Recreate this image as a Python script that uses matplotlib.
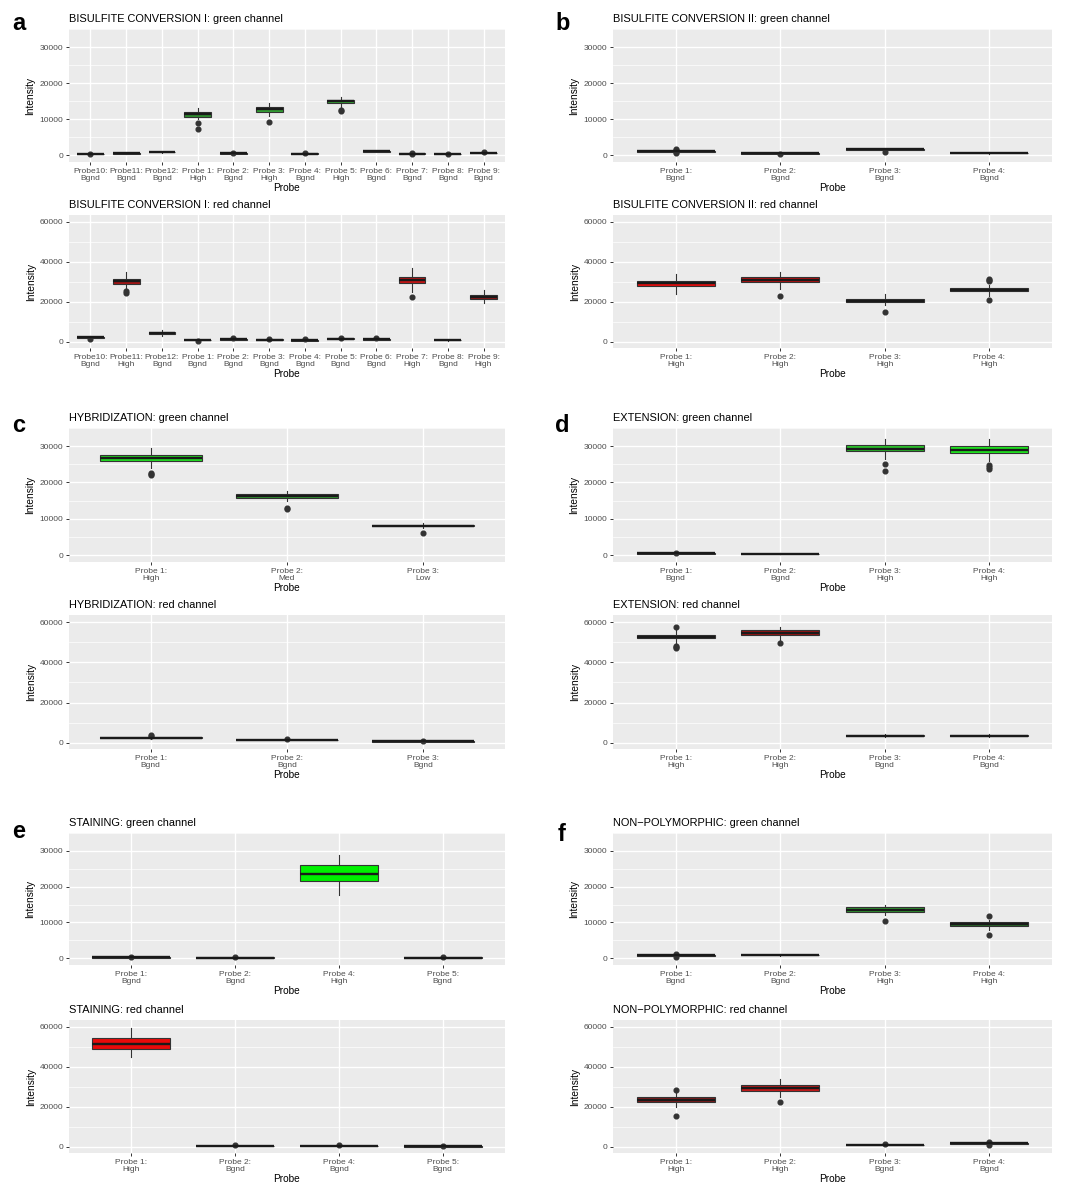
import numpy as np
import matplotlib
matplotlib.use("Agg")
import matplotlib.pyplot as plt
from matplotlib.ticker import MultipleLocator

plt.rcParams["font.family"] = ["Liberation Sans", "DejaVu Sans"]

# box stats per probe: (whisker low, Q1, median, Q3, whisker high)

# a: bisulfite conversion I
A_GREEN_LABELS = ["Probe10:\nBgnd", "Probe11:\nBgnd", "Probe12:\nBgnd", "Probe 1:\nHigh",
                  "Probe 2:\nBgnd", "Probe 3:\nHigh", "Probe 4:\nBgnd", "Probe 5:\nHigh",
                  "Probe 6:\nBgnd", "Probe 7:\nBgnd", "Probe 8:\nBgnd", "Probe 9:\nBgnd"]
A_GREEN_STATS = [(150, 250, 320, 400, 500), (380, 450, 520, 580, 650), (650, 740, 800, 860, 950),
                 (10000, 10500, 11300, 12000, 13000), (300, 400, 470, 540, 650),
                 (10900, 12000, 12800, 13400, 14600), (250, 350, 420, 500, 620),
                 (13400, 14500, 14900, 15400, 16200), (850, 950, 1020, 1080, 1200),
                 (250, 350, 430, 520, 650), (150, 230, 300, 370, 460), (420, 500, 580, 650, 750)]
A_GREEN_OUT = [[450], [], [], [8900, 7300], [700], [9100], [700], [12300, 12600], [],
               [250, 650], [450], [800]]

A_RED_LABELS = ["Probe10:\nBgnd", "Probe11:\nHigh", "Probe12:\nBgnd", "Probe 1:\nBgnd",
                "Probe 2:\nBgnd", "Probe 3:\nBgnd", "Probe 4:\nBgnd", "Probe 5:\nBgnd",
                "Probe 6:\nBgnd", "Probe 7:\nHigh", "Probe 8:\nBgnd", "Probe 9:\nHigh"]
A_RED_STATS = [(1700, 2000, 2300, 2600, 2900), (27000, 28900, 30200, 31500, 35000),
               (2800, 3800, 4200, 4800, 6000), (500, 700, 900, 1100, 1300),
               (800, 1000, 1200, 1400, 1600), (700, 900, 1100, 1300, 1500),
               (450, 650, 800, 950, 1150), (1000, 1300, 1500, 1700, 2000),
               (800, 1000, 1200, 1400, 1700), (25000, 29200, 30800, 32400, 37000),
               (550, 700, 800, 900, 1050), (19500, 21500, 22500, 23600, 26000)]
A_RED_OUT = [[1500], [24500, 25200], [], [300], [1800], [1600], [1300], [2100], [1900],
             [22600], [], []]

# b: bisulfite conversion II
B_GREEN_LABELS = ["Probe 1:\nBgnd", "Probe 2:\nBgnd", "Probe 3:\nBgnd", "Probe 4:\nBgnd"]
B_GREEN_STATS = [(900, 1000, 1100, 1200, 1300), (300, 400, 500, 580, 700),
                 (1450, 1550, 1620, 1700, 1800), (450, 520, 600, 670, 750)]
B_GREEN_OUT = [[500, 800, 1500, 1700], [300], [1000], []]

B_RED_LABELS = ["Probe 1:\nHigh", "Probe 2:\nHigh", "Probe 3:\nHigh", "Probe 4:\nHigh"]
B_RED_STATS = [(24000, 28000, 29200, 30600, 33800), (26500, 29800, 31000, 32300, 35000),
               (18500, 19800, 20500, 21400, 24000), (23000, 25300, 26000, 27000, 28500)]
B_RED_OUT = [[], [23000], [14800], [20800, 30400, 31000, 31600]]

# c: hybridization
C_GREEN_LABELS = ["Probe 1:\nHigh", "Probe 2:\nMed", "Probe 3:\nLow"]
C_GREEN_STATS = [(24000, 25900, 26700, 27600, 29400), (15000, 15700, 16200, 16800, 17700),
                 (7500, 7900, 8100, 8400, 8800)]
C_GREEN_OUT = [[22000, 22400, 22700], [12800, 13100], [6000]]

C_RED_LABELS = ["Probe 1:\nBgnd", "Probe 2:\nBgnd", "Probe 3:\nBgnd"]
C_RED_STATS = [(2100, 2400, 2600, 2800, 3100), (1000, 1250, 1400, 1550, 1800),
               (400, 600, 700, 800, 950)]
C_RED_OUT = [[3600, 3900], [2100], [1100]]

# d: extension
D_GREEN_LABELS = ["Probe 1:\nBgnd", "Probe 2:\nBgnd", "Probe 3:\nHigh", "Probe 4:\nHigh"]
D_GREEN_STATS = [(300, 400, 480, 560, 650), (200, 280, 350, 420, 500),
                 (26500, 28700, 29300, 30300, 32000), (26000, 28000, 29000, 30000, 32000)]
D_GREEN_OUT = [[650], [], [23200, 25000], [23600, 24200, 24800]]

D_RED_LABELS = ["Probe 1:\nHigh", "Probe 2:\nHigh", "Probe 3:\nBgnd", "Probe 4:\nBgnd"]
D_RED_STATS = [(49500, 51900, 52700, 53800, 56000), (51000, 53600, 54500, 55800, 57300),
               (3000, 3400, 3600, 3800, 4400), (3000, 3400, 3600, 3800, 4300)]
D_RED_OUT = [[47000, 47700, 48300, 57300], [49500], [], []]

# e: staining
E_GREEN_LABELS = ["Probe 1:\nBgnd", "Probe 2:\nBgnd", "Probe 4:\nHigh", "Probe 5:\nBgnd"]
E_GREEN_STATS = [(50, 120, 200, 270, 350), (30, 80, 150, 220, 300),
                 (17600, 21500, 23600, 26000, 28800), (30, 90, 150, 220, 300)]
E_GREEN_OUT = [[300], [250], [], [320]]

E_RED_LABELS = ["Probe 1:\nHigh", "Probe 2:\nBgnd", "Probe 4:\nBgnd", "Probe 5:\nBgnd"]
E_RED_STATS = [(44800, 49200, 51700, 54300, 59500), (100, 200, 300, 400, 550),
               (250, 380, 500, 620, 750), (50, 130, 200, 280, 380)]
E_RED_OUT = [[], [750], [900], [450]]

# f: non-polymorphic
F_GREEN_LABELS = ["Probe 1:\nBgnd", "Probe 2:\nBgnd", "Probe 3:\nHigh", "Probe 4:\nHigh"]
F_GREEN_STATS = [(600, 700, 800, 900, 1000), (700, 800, 900, 1000, 1100),
                 (12000, 13000, 13600, 14300, 15000), (8000, 9100, 9500, 10000, 10800)]
F_GREEN_OUT = [[400, 1100], [], [10400], [6600, 11700]]

F_RED_LABELS = ["Probe 1:\nHigh", "Probe 2:\nHigh", "Probe 3:\nBgnd", "Probe 4:\nBgnd"]
F_RED_STATS = [(20000, 22500, 23500, 24800, 27000), (25000, 27800, 29200, 31000, 34000),
               (800, 950, 1050, 1150, 1300), (1500, 1650, 1800, 1950, 2100)]
F_RED_OUT = [[15200, 28300], [22600], [1600], [900, 2300]]

# box fill colours
DK = "#333333"
A_GREEN_FILL = [DK, DK, DK, "#2f8f2f", DK, "#34a034", DK, "#36a836", DK, DK, DK, DK]
A_RED_FILL = ["#4a1a1a", "#a51515", "#6b1a1a", DK, DK, DK, DK, DK, DK, "#c41515", DK, "#9a1a1a"]
B_GREEN_FILL = [DK, DK, DK, DK]
B_RED_FILL = ["#e00c0c", "#c51010", "#8c1515", "#7a1e1e"]
C_GREEN_FILL = ["#22dd22", "#33a033", "#2c3a2c"]
C_RED_FILL = [DK, DK, DK]
D_GREEN_FILL = [DK, DK, "#2ac42a", "#1ee61e"]
D_RED_FILL = ["#9a1212", "#a51212", DK, DK]
E_GREEN_FILL = [DK, DK, "#00f000", DK]
E_RED_FILL = ["#e80a0a", DK, DK, DK]
F_GREEN_FILL = [DK, DK, "#30a030", "#2b6e2b"]
F_RED_FILL = ["#8a1c1c", "#c41818", DK, DK]

W, H = 1072, 1184
COLS = [(69, 505), (613, 1052)]
ROWS = [(29, 162), (215, 348), (428, 562), (615, 749), (833, 965), (1020, 1153)]

panels = [
    ("BISULFITE CONVERSION I: green channel", A_GREEN_LABELS, A_GREEN_STATS, A_GREEN_OUT, A_GREEN_FILL, "green", 0, 0),
    ("BISULFITE CONVERSION I: red channel", A_RED_LABELS, A_RED_STATS, A_RED_OUT, A_RED_FILL, "red", 0, 1),
    ("BISULFITE CONVERSION II: green channel", B_GREEN_LABELS, B_GREEN_STATS, B_GREEN_OUT, B_GREEN_FILL, "green", 1, 0),
    ("BISULFITE CONVERSION II: red channel", B_RED_LABELS, B_RED_STATS, B_RED_OUT, B_RED_FILL, "red", 1, 1),
    ("HYBRIDIZATION: green channel", C_GREEN_LABELS, C_GREEN_STATS, C_GREEN_OUT, C_GREEN_FILL, "green", 0, 2),
    ("HYBRIDIZATION: red channel", C_RED_LABELS, C_RED_STATS, C_RED_OUT, C_RED_FILL, "red", 0, 3),
    ("EXTENSION: green channel", D_GREEN_LABELS, D_GREEN_STATS, D_GREEN_OUT, D_GREEN_FILL, "green", 1, 2),
    ("EXTENSION: red channel", D_RED_LABELS, D_RED_STATS, D_RED_OUT, D_RED_FILL, "red", 1, 3),
    ("STAINING: green channel", E_GREEN_LABELS, E_GREEN_STATS, E_GREEN_OUT, E_GREEN_FILL, "green", 0, 4),
    ("STAINING: red channel", E_RED_LABELS, E_RED_STATS, E_RED_OUT, E_RED_FILL, "red", 0, 5),
    ("NON\u2212POLYMORPHIC: green channel", F_GREEN_LABELS, F_GREEN_STATS, F_GREEN_OUT, F_GREEN_FILL, "green", 1, 4),
    ("NON\u2212POLYMORPHIC: red channel", F_RED_LABELS, F_RED_STATS, F_RED_OUT, F_RED_FILL, "red", 1, 5),
]

LETTERS = [("a", 12, 30), ("b", 555, 30), ("c", 12, 432), ("d", 555, 432), ("e", 12, 838), ("f", 558, 841)]


def draw_panel(ax, title, labels, stats, outs, fills, channel):
    n = len(labels)
    pos = np.arange(1, n + 1)
    bstats = []
    for lab, (lo, q1, med, q3, hi), fl in zip(labels, stats, outs):
        bstats.append(dict(label=lab, whislo=lo, q1=q1, med=med, q3=q3, whishi=hi, fliers=fl))
    ax.set_facecolor("#EBEBEB")
    bp = ax.bxp(bstats, positions=pos, widths=0.75, patch_artist=True, showcaps=False,
                boxprops=dict(edgecolor="#333333", linewidth=0.8),
                whiskerprops=dict(color="#333333", linewidth=0.8),
                medianprops=dict(color="#1a1a1a", linewidth=1.7),
                flierprops=dict(marker="o", markerfacecolor="#333333", markeredgecolor="#333333",
                                markersize=3.4, linestyle="none"),
                zorder=3)
    for patch, c in zip(bp["boxes"], fills):
        patch.set_facecolor(c)

    if channel == "green":
        ax.set_ylim(-1900, 35000)
        ax.yaxis.set_major_locator(MultipleLocator(10000))
        ax.yaxis.set_minor_locator(MultipleLocator(5000))
    else:
        ax.set_ylim(-3100, 63500)
        ax.yaxis.set_major_locator(MultipleLocator(20000))
        ax.yaxis.set_minor_locator(MultipleLocator(10000))
    ax.set_xlim(0.4, n + 0.6)
    ax.set_xticks(pos)
    ax.set_xticklabels(labels, fontsize=6.0, color="#4d4d4d", linespacing=1.0)
    ax.tick_params(axis="y", labelsize=6.0, labelcolor="#4d4d4d")
    ax.tick_params(which="major", length=2.5, width=0.7, color="#333333", pad=1.5)
    ax.tick_params(which="minor", length=0)
    ax.grid(which="major", color="white", linewidth=1.0, zorder=0)
    ax.grid(which="minor", axis="y", color="white", linewidth=0.5, zorder=0)
    ax.set_axisbelow(True)
    for s in ax.spines.values():
        s.set_visible(False)
    ax.set_xlabel("Probe", fontsize=7.3, labelpad=1)
    ax.set_ylabel("Intensity", fontsize=7.3, labelpad=3)
    ax.set_title(title, loc="left", fontsize=7.9, pad=5)


fig = plt.figure(figsize=(W / 100, H / 100), dpi=100)
for title, labels, stats, outs, fills, channel, col, row in panels:
    x0, x1 = COLS[col]
    y0, y1 = ROWS[row]
    ax = fig.add_axes([x0 / W, 1 - y1 / H, (x1 - x0) / W, (y1 - y0) / H])
    draw_panel(ax, title, labels, stats, outs, fills, channel)

for letter, lx, ly in LETTERS:
    fig.text(lx / W, 1 - ly / H, letter, fontsize=17, fontweight="bold", ha="left", va="baseline")

fig.savefig("out.png", dpi=100, facecolor="white")
